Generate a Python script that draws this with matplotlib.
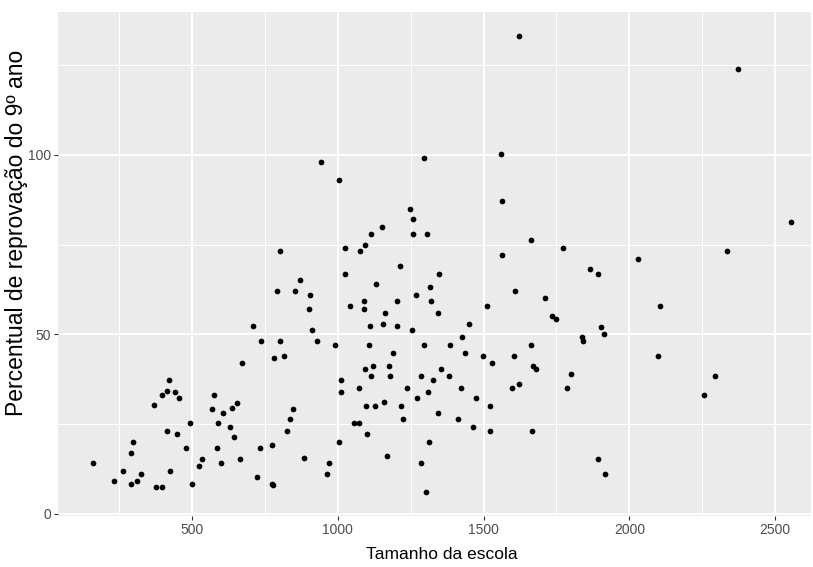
import matplotlib.pyplot as plt
from matplotlib.ticker import MultipleLocator

# School size vs. 9th grade failure rate, one point per school
school_size = [
    162, 231, 265, 292, 313, 325, 292, 297, 378, 398, 370, 398, 414, 420, 443, 456, 414, 448,
    424, 481, 493, 501, 525, 534, 570, 575, 586, 590, 598, 606, 632, 636, 643, 656, 665, 673,
    942, 1003, 1294, 1248, 1259, 1259, 1305, 1151, 1114, 803, 1024, 1077, 1093, 1213, 1024, 872,
    792, 852, 905, 1130, 1316, 1269, 901, 1041, 1089, 1089, 1203, 1162, 1321, 708, 910, 1110,
    1154, 1203, 1256, 738, 803, 930, 992, 1106, 1297,
    783, 816, 1191, 1011, 1011, 1093, 1122, 1114, 1175, 1179, 1073, 1097, 1126, 1158, 1236, 1285,
    1309, 1273, 1216, 1223, 1056, 1073, 1101, 848, 836, 827, 733, 775, 722, 774, 779, 884, 970,
    962, 1003, 1170, 1285, 1301, 1314,
    1558, 1562, 1661, 1771, 1562, 1347, 1864, 1893, 1342, 1607, 1510, 1709, 1734, 1750, 1451,
    1427, 1836, 1902,
    1386, 1436, 1497, 1530, 1604, 1664, 1669, 1680, 1840, 1799, 1786, 1354, 1326, 1383, 1424,
    1342, 1412, 1474, 1521, 1596, 1620, 1465, 1521, 1665, 1893,
    2374, 2554, 2031, 2334, 1622, 2105, 1914, 2097, 2293, 2257, 1918,
]
fail_rate = [
    14.2, 9.1, 12.1, 8.3, 9.1, 11.2, 17.1, 20.1, 7.4, 7.4, 30.3, 33.1, 34.1, 37.4, 34.0, 32.3, 23.0, 22.2,
    12.1, 18.4, 25.2, 8.3, 13.4, 15.4, 29.3, 33.1, 18.4, 25.2, 14.2, 28.1, 24.3, 29.4, 21.4, 31.0, 15.4, 42.1,
    98.1, 93.0, 99.0, 85.0, 82.1, 77.9, 77.9, 79.9, 77.9, 73.3, 74.1, 73.3, 74.8, 69.0, 66.9, 65.2,
    62.2, 62.2, 61.0, 63.9, 63.1, 61.0, 57.2, 58.0, 59.3, 57.2, 59.3, 55.9, 59.3, 52.2, 51.3, 52.2,
    52.9, 52.2, 51.3, 48.3, 48.3, 48.3, 47.0, 47.0, 47.0,
    43.3, 44.1, 44.9, 37.3, 34.0, 40.3, 41.2, 38.3, 41.2, 38.3, 35.2, 30.2, 30.2, 31.1, 35.2, 38.3,
    34.0, 32.3, 30.2, 26.4, 25.2, 25.2, 22.2, 29.3, 26.4, 23.0, 18.4, 19.2, 10.4, 8.4, 8.0, 15.5, 14.2,
    11.2, 20.1, 16.2, 14.2, 6.1, 20.1,
    100.3, 87.2, 76.2, 74.1, 72.0, 66.9, 68.2, 66.9, 56.0, 62.2, 58.0, 60.2, 55.2, 54.2, 53.0,
    49.2, 49.2, 52.0,
    47.1, 44.9, 44.1, 42.0, 44.1, 47.1, 41.2, 40.3, 48.3, 39.1, 35.2, 40.3, 37.3, 38.3, 35.2,
    28.1, 26.4, 32.3, 30.2, 35.2, 36.1, 24.2, 23.0, 23.0, 15.4,
    123.8, 81.2, 71.1, 73.3, 133.1, 58.0, 50.0, 44.1, 38.3, 33.1, 11.2,
]

x_ticks = [500, 1000, 1500, 2000, 2500]
y_ticks = [0, 50, 100]

narrow = ['Liberation Sans Narrow', 'Liberation Sans', 'DejaVu Sans']
plt.rcParams['font.family'] = ['Liberation Sans', 'DejaVu Sans']

fig = plt.figure(figsize=(8.13, 5.67), dpi=100)
ax = fig.add_axes([0.0713, 0.090, 0.9267, 0.889])

# ggplot-like grey panel with white grid
ax.set_facecolor('#EBEBEB')
for s in ax.spines.values():
    s.set_visible(False)
ax.set_axisbelow(True)
ax.xaxis.set_minor_locator(MultipleLocator(250))
ax.yaxis.set_minor_locator(MultipleLocator(25))
ax.grid(which='major', color='white', linewidth=1.4)
ax.grid(which='minor', color='white', linewidth=0.7)

ax.scatter(school_size, fail_rate, s=17, color='black', linewidths=0, zorder=3)

ax.set_xlim(40.5, 2624)
ax.set_ylim(-0.56, 139.8)
ax.set_xticks(x_ticks)
ax.set_yticks(y_ticks)
ax.tick_params(which='major', length=2.75, width=0.8, color='#333333', pad=2.2,
               labelcolor='#4D4D4D', labelsize=10)
ax.tick_params(which='minor', length=0)
for lab in ax.get_xticklabels() + ax.get_yticklabels():
    lab.set_family(narrow)

ax.set_xlabel('Tamanho da escola', fontsize=12.5, family=narrow, va='top')
ax.xaxis.set_label_coords(0.5097, -0.0615)
ax.set_ylabel('Percentual de reprovação do 9º ano', fontsize=16.5, va='center')
ax.yaxis.set_label_coords(-0.0545, 0.5625)

plt.savefig('out.png', dpi=100)
